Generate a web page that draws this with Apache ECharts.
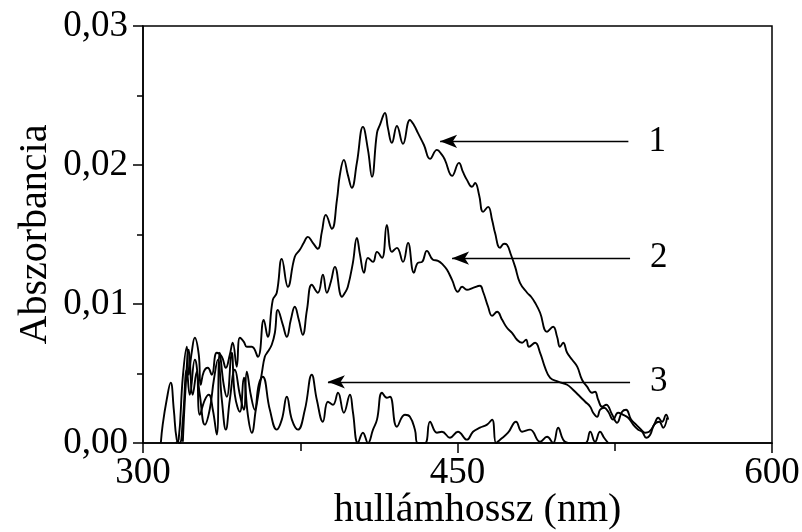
<!DOCTYPE html>
<html>
<head>
<meta charset="utf-8">
<script src="https://cdn.jsdelivr.net/npm/echarts@6/dist/echarts.min.js"></script>
<style>
  html, body { margin: 0; padding: 0; background: #fff; }
  #chart { width: 802px; height: 532px; }
</style>
</head>
<body>
<div id="chart"></div>
<script>
// Absorption spectra of three samples (wavelength in nm, absorbance)
const wavelength1 = [315.6,317.0,319.0,320.9,321.8,323.2,324.7,326.6,327.5,329.0,
  330.9,332.8,335.2,337.6,339.5,341.4,342.8,344.7,346.2,348.1,
  349.5,351.9,354.8,357.6,359.5,361.9,363.8,366.2,369.1,372.4,
  374.8,376.7,378.6,381.0,383.4,385.3,387.2,390.1,392.5,393.9,
  395.8,397.7,399.6,402.0,404.9,407.3,409.2,411.6,413.0,415.4,
  416.8,418.7,421.1,424.0,427.3,429.2,431.1,434.0,436.9,440.2,
  442.6,444.0,447.4,450.7,452.6,454.5,456.9,458.4,460.3,462.2,
  464.6,466.5,467.9,470.3,472.2,473.6,475.5,477.5,479.8,483.2,
  485.1,487.0,489.4,492.7,495.6,497.5,498.9,500.4,502.3,504.7,
  507.1,509.4,511.8,514.2,515.6,517.1,519.0,520.9,523.8,526.1,
  528.5,530.4,532.8,535.2,537.6,539.5,541.4,543.8,545.7,547.6,
  549.5,550.5];
const absorbance1 = [0,0.00024,0.00477,0.00692,0.00491,0.00649,0.00757,0.00635,0.00419,0.00513,
  0.00541,0.00491,0.00649,0.00620,0.00541,0.00635,0.00721,0.00549,0.00757,0.00728,
  0.00692,0.00692,0.00620,0.00886,0.00764,0.01030,0.01081,0.01325,0.01124,0.01340,
  0.01390,0.01440,0.01483,0.01440,0.01397,0.01519,0.01641,0.01541,0.01749,0.01929,
  0.02037,0.01929,0.01836,0.02015,0.02274,0.02109,0.01915,0.02231,0.02288,0.02374,
  0.02267,0.02159,0.02281,0.02152,0.02324,0.02288,0.02231,0.02144,0.02044,0.02109,
  0.02073,0.02037,0.01922,0.02015,0.01950,0.01893,0.01843,0.01871,0.01785,0.01663,
  0.01699,0.01605,0.01512,0.01404,0.01433,0.01426,0.01354,0.01267,0.01152,0.01081,
  0.01052,0.01009,0.00937,0.00800,0.00836,0.00764,0.00692,0.00721,0.00649,0.00599,
  0.00549,0.00455,0.00405,0.00362,0.00369,0.00311,0.00261,0.00275,0.00203,0.00146,
  0.00225,0.00239,0.00168,0.00132,0.00096,0.00074,0.00081,0.00132,0.00182,0.00153,
  0.00203,0.00168];

const wavelength2 = [319.0,320.4,321.8,323.7,325.6,327.1,329.5,331.4,333.3,335.2,
  336.6,338.5,340.0,342.3,343.8,346.2,348.1,350.0,351.9,353.8,
  356.7,358.1,359.5,361.4,362.9,364.3,366.7,368.6,370.5,372.4,
  374.3,376.2,378.2,380.5,383.4,385.8,387.7,389.6,391.5,394.9,
  396.3,397.7,400.1,402.0,403.5,405.4,407.3,409.7,411.6,414.0,
  416.3,418.7,421.1,424.0,426.4,429.2,431.1,433.1,435.4,438.3,
  440.7,443.1,445.0,447.4,450.2,452.2,454.5,457.4,460.7,462.2,
  464.6,466.5,468.9,471.3,473.6,476.0,478.4,480.8,482.7,484.1,
  487.0,489.4,491.8,494.2,498.0,502.3,505.1,508.5,510.9,513.3,
  514.7,516.6,518.0,519.9,521.9,524.2,526.6,529.0,531.4,533.8,
  536.2,538.1,540.0,541.9,543.8,546.2,548.1,550.0];
const absorbance2 = [0.00009,0.00419,0.00671,0.00347,0.00513,0.00203,0.00311,0.00347,0.00239,0.00060,
  0.00649,0.00419,0.00333,0.00649,0.00347,0.00225,0.00469,0.00203,0.00074,0.00239,
  0.00505,0.00620,0.00656,0.00707,0.00793,0.00958,0.00850,0.00764,0.00886,0.00980,
  0.00886,0.00779,0.00958,0.01138,0.01081,0.01210,0.01081,0.01160,0.01267,0.01052,
  0.01081,0.01124,0.01296,0.01476,0.01354,0.01225,0.01332,0.01303,0.01375,0.01332,
  0.01569,0.01375,0.01404,0.01303,0.01440,0.01225,0.01296,0.01303,0.01382,0.01318,
  0.01311,0.01282,0.01246,0.01174,0.01088,0.01124,0.01102,0.01116,0.01131,0.01088,
  0.00980,0.00915,0.00944,0.00886,0.00829,0.00793,0.00743,0.00721,0.00743,0.00692,
  0.00721,0.00649,0.00541,0.00469,0.00441,0.00419,0.00383,0.00333,0.00297,0.00261,
  0.00218,0.00189,0.00239,0.00254,0.00225,0.00168,0.00218,0.00203,0.00182,0.00132,
  0.00096,0.00081,0.00038,0.00060,0.00132,0.00153,0.00110,0.00182];

const wavelength3 = [308.5,309.4,311.3,313.2,314.7,316.1,317.5,319.0,320.9,322.3,
  324.7,327.1,329.5,331.8,333.8,335.7,337.6,339.5,341.4,343.8,
  346.2,348.1,349.5,351.4,353.3,355.2,357.1,360.5,363.8,366.2,
  368.6,371.0,373.9,377.2,380.5,382.9,385.8,388.2,390.6,393.0,
  395.8,398.7,400.1,402.5,404.9,407.3,409.7,411.6,414.0,416.3,
  417.8,421.1,424.9,427.3,429.7,431.1,434.5,436.9,440.2,442.6,
  446.4,450.2,454.5,457.4,460.7,464.1,466.5,468.4,470.3,474.1,
  477.9,480.8,484.6,489.4,492.7,495.6,498.0,500.4,502.8,510.9,
  513.3,515.6,518.0,519.9,521.9];
const absorbance3 = [0,0.00132,0.00311,0.00434,0.00239,0.00024,0,0.00168,0.00527,0.00347,
  0.00599,0.00347,0.00132,0.00239,0.00455,0.00599,0.00311,0.00096,0.00311,0.00527,
  0.00347,0.00239,0.00513,0.00347,0.00239,0.00419,0.00477,0.00239,0.00096,0.00168,
  0.00333,0.00168,0.00096,0.00239,0.00491,0.00311,0.00153,0.00297,0.00275,0.00362,
  0.00218,0.00347,0.00225,0,0.00074,0,0.00096,0.00168,0.00362,0.00326,
  0.00333,0.00117,0.00203,0.00189,0.00096,0,0,0.00153,0.00074,0.00081,
  0.00038,0.00081,0.00024,0.00081,0.00110,0.00132,0.00168,0,0.00024,0.00074,
  0.00153,0.00081,0.00096,0.00009,0.00045,0,0.00110,0.00024,0,0,
  0.00081,0.00009,0.00081,0.00038,0];

const curveNames = ['1', '2', '3'];
const xTicks = [300, 450, 600];
const yTicks = [0, 0.01, 0.02, 0.03];

const serif = '"Liberation Serif", "Times New Roman", serif';
const ink = '#000';

function pairs(xs, ys) {
  const out = [];
  const n = Math.min(xs.length, ys.length);
  for (let i = 0; i < n; i++) out.push([xs[i], ys[i]]);
  return out;
}

// Pointer arrows from the right margin to each curve, labelled with the curve number
function pointer(name, level, tailX, headX) {
  return {
    silent: true,
    symbol: ['none', 'arrow'],
    symbolSize: [10, 17],
    lineStyle: { color: ink, width: 1.4, type: 'solid' },
    label: {
      show: true, position: 'start', distance: 20, formatter: name,
      fontFamily: serif, fontSize: 35, color: ink
    },
    emphasis: { disabled: true },
    data: [[{ coord: [tailX, level] }, { coord: [headX, level] }]]
  };
}

function curve(name, xs, ys, arrow) {
  return {
    name: name,
    type: 'line',
    data: pairs(xs, ys),
    showSymbol: false,
    smooth: 0.45,
    clip: true,
    lineStyle: { color: ink, width: 1.9 },
    itemStyle: { color: ink },
    markLine: arrow
  };
}

const chart = echarts.init(document.getElementById('chart'), null, { renderer: 'canvas' });
chart.setOption({
  animation: false,
  backgroundColor: '#fff',
  grid: {
    left: 143, right: 30, top: 26, bottom: 89,
    containLabel: false,
    outerBoundsMode: 'none',
    show: true, borderColor: ink, borderWidth: 1.5, backgroundColor: 'transparent'
  },
  xAxis: {
    type: 'value',
    min: xTicks[0], max: xTicks[xTicks.length - 1], interval: xTicks[1] - xTicks[0],
    name: 'hullámhossz (nm)',
    nameLocation: 'middle',
    nameGap: 47,
    nameMoveOverlap: false,
    nameTextStyle: { fontFamily: serif, fontSize: 40, color: ink, padding: [0, 0, 0, 40] },
    axisLine: { show: true, lineStyle: { color: ink, width: 1.5 } },
    axisTick: { show: true, inside: false, length: 10, lineStyle: { color: ink, width: 1.5 } },
    minorTick: { show: true, splitNumber: 2, length: 8, lineStyle: { color: ink, width: 1.5 } },
    splitLine: { show: false },
    minorSplitLine: { show: false },
    axisLabel: { fontFamily: serif, fontSize: 37, color: ink, margin: 12 }
  },
  yAxis: {
    type: 'value',
    min: yTicks[0], max: yTicks[yTicks.length - 1], interval: yTicks[1] - yTicks[0],
    name: 'Abszorbancia',
    nameLocation: 'middle',
    nameGap: 88,
    nameMoveOverlap: false,
    nameTextStyle: { fontFamily: serif, fontSize: 40, color: ink },
    axisLine: { show: true, lineStyle: { color: ink, width: 1.5 } },
    axisTick: { show: true, inside: false, length: 10, lineStyle: { color: ink, width: 1.5 } },
    minorTick: { show: true, splitNumber: 2, length: 6, lineStyle: { color: ink, width: 1.5 } },
    splitLine: { show: false },
    minorSplitLine: { show: false },
    axisLabel: {
      fontFamily: serif, fontSize: 37, color: ink, margin: 15,
      formatter: v => v.toFixed(2).replace('.', ',')
    }
  },
  series: [
    curve(curveNames[0], wavelength1, absorbance1, pointer(curveNames[0], 0.0217, 531.5, 441.7)),
    curve(curveNames[1], wavelength2, absorbance2, pointer(curveNames[1], 0.0133, 532.3, 447.4)),
    curve(curveNames[2], wavelength3, absorbance3, pointer(curveNames[2], 0.0044, 532.3, 388.2))
  ]
});
</script>
</body>
</html>
